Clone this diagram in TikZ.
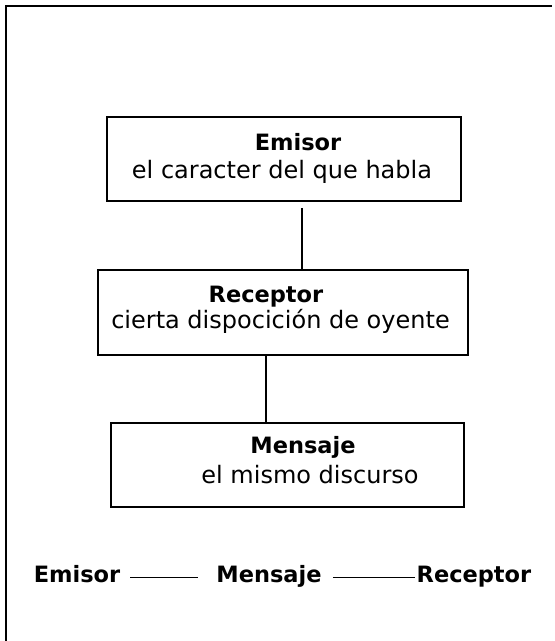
\documentclass[tikz,border=0pt]{standalone}
\usepackage{fontspec}
\setmainfont{DejaVu Sans}
\begin{document}
\begin{tikzpicture}[x=1pt,y=-1pt,
  box/.style={draw,line width=1.5pt,inner sep=0pt},
  ttl/.style={font=\fontsize{22.5}{26}\selectfont\bfseries,anchor=base,inner sep=0pt},
  sub/.style={font=\fontsize{24}{28}\selectfont,anchor=base,inner sep=0pt},
  conn/.style={line width=1.3pt},
  thin/.style={line width=1pt}]
\useasboundingbox (0,0) rectangle (555,641);
% frame
\coordinate (fl) at (6,641);
\coordinate (fc) at (6,6);
\coordinate (fr) at (552,6);
\draw[line width=1.4pt] (fl) -- (fc) -- (fr);
% boxes
\node[box,minimum width=354pt,minimum height=84pt] (emisor) at (284,159) {};
\node[box,minimum width=370pt,minimum height=85pt] (receptor) at (283,312.5) {};
\node[box,minimum width=353pt,minimum height=84pt] (mensaje) at (287.5,465) {};
% texts
\node[ttl] (t1) at (298,150) {Emisor};
\node[sub] (s1) at (282,178) {el caracter del que habla};
\node[ttl] (t2) at (266,302) {Receptor};
\node[sub] (s2) at (280.5,328) {cierta dispocición de oyente};
\node[ttl] (t3) at (303,453) {Mensaje};
\node[sub] (s3) at (310,483) {el mismo discurso};
% connectors
\coordinate (c1) at (302,0);
\coordinate (c2) at (266,0);
\draw[conn] ([yshift=-6pt]emisor.south -| c1) -- (receptor.north -| c1);
\draw[conn] (receptor.south -| c2) -- (mensaje.north -| c2);
% bottom line
\node[ttl] (bE) at (77,582) {Emisor};
\node[ttl] (bM) at (269,582) {Mensaje};
\node[ttl] (bR) at (474,582) {Receptor};
\draw[thin] ([xshift=10pt,yshift=5pt]bE.base east) -- ([xshift=-18pt,yshift=5pt]bM.base west);
\draw[thin] ([xshift=11pt,yshift=5pt]bM.base east) -- ([xshift=-2pt,yshift=5pt]bR.base west);
\end{tikzpicture}
\end{document}
